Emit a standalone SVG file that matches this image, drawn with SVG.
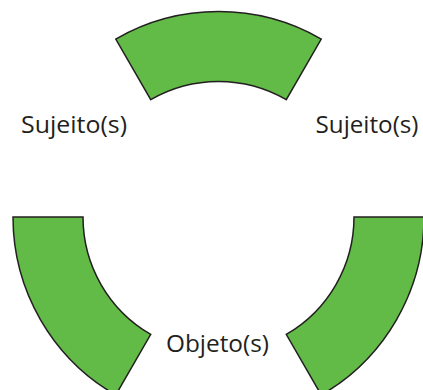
<svg xmlns="http://www.w3.org/2000/svg" width="423" height="390" viewBox="0 0 423 390">
<style>
.seg{fill:#62BB47;stroke:#231F20;stroke-width:1.5;stroke-linejoin:miter}
.lbl{font-family:"Open Sans","Noto Sans",sans-serif;font-size:23px;fill:#231F20;text-anchor:middle}
</style>
<rect width="423" height="390" fill="#FFFFFF"/>
<g id="seg-top"><path class="seg" d="M115.75,39.03 A205.5,205.5 0 0 1 321.25,39.03 L286.25,99.65 A135.5,135.5 0 0 0 150.75,99.65 Z"/></g>
<g id="seg-left"><path class="seg" d="M13,217 L83,217 A135.5,135.5 0 0 0 150.75,334.35 L115.75,394.97 A205.5,205.5 0 0 1 13,217 Z"/></g>
<g id="seg-right"><path class="seg" d="M354,217 L424,217 A205.5,205.5 0 0 1 321.25,394.97 L286.25,334.35 A135.5,135.5 0 0 0 354,217 Z"/></g>
<g id="connectors"></g>
<g id="label-left"><text class="lbl" x="74" y="133" textLength="106" lengthAdjust="spacingAndGlyphs">Sujeito(s)</text></g>
<g id="label-right"><text class="lbl" x="367" y="133" textLength="103" lengthAdjust="spacingAndGlyphs">Sujeito(s)</text></g>
<g id="label-bottom"><text class="lbl" x="217.5" y="352" textLength="103" lengthAdjust="spacingAndGlyphs">Objeto(s)</text></g>
</svg>
